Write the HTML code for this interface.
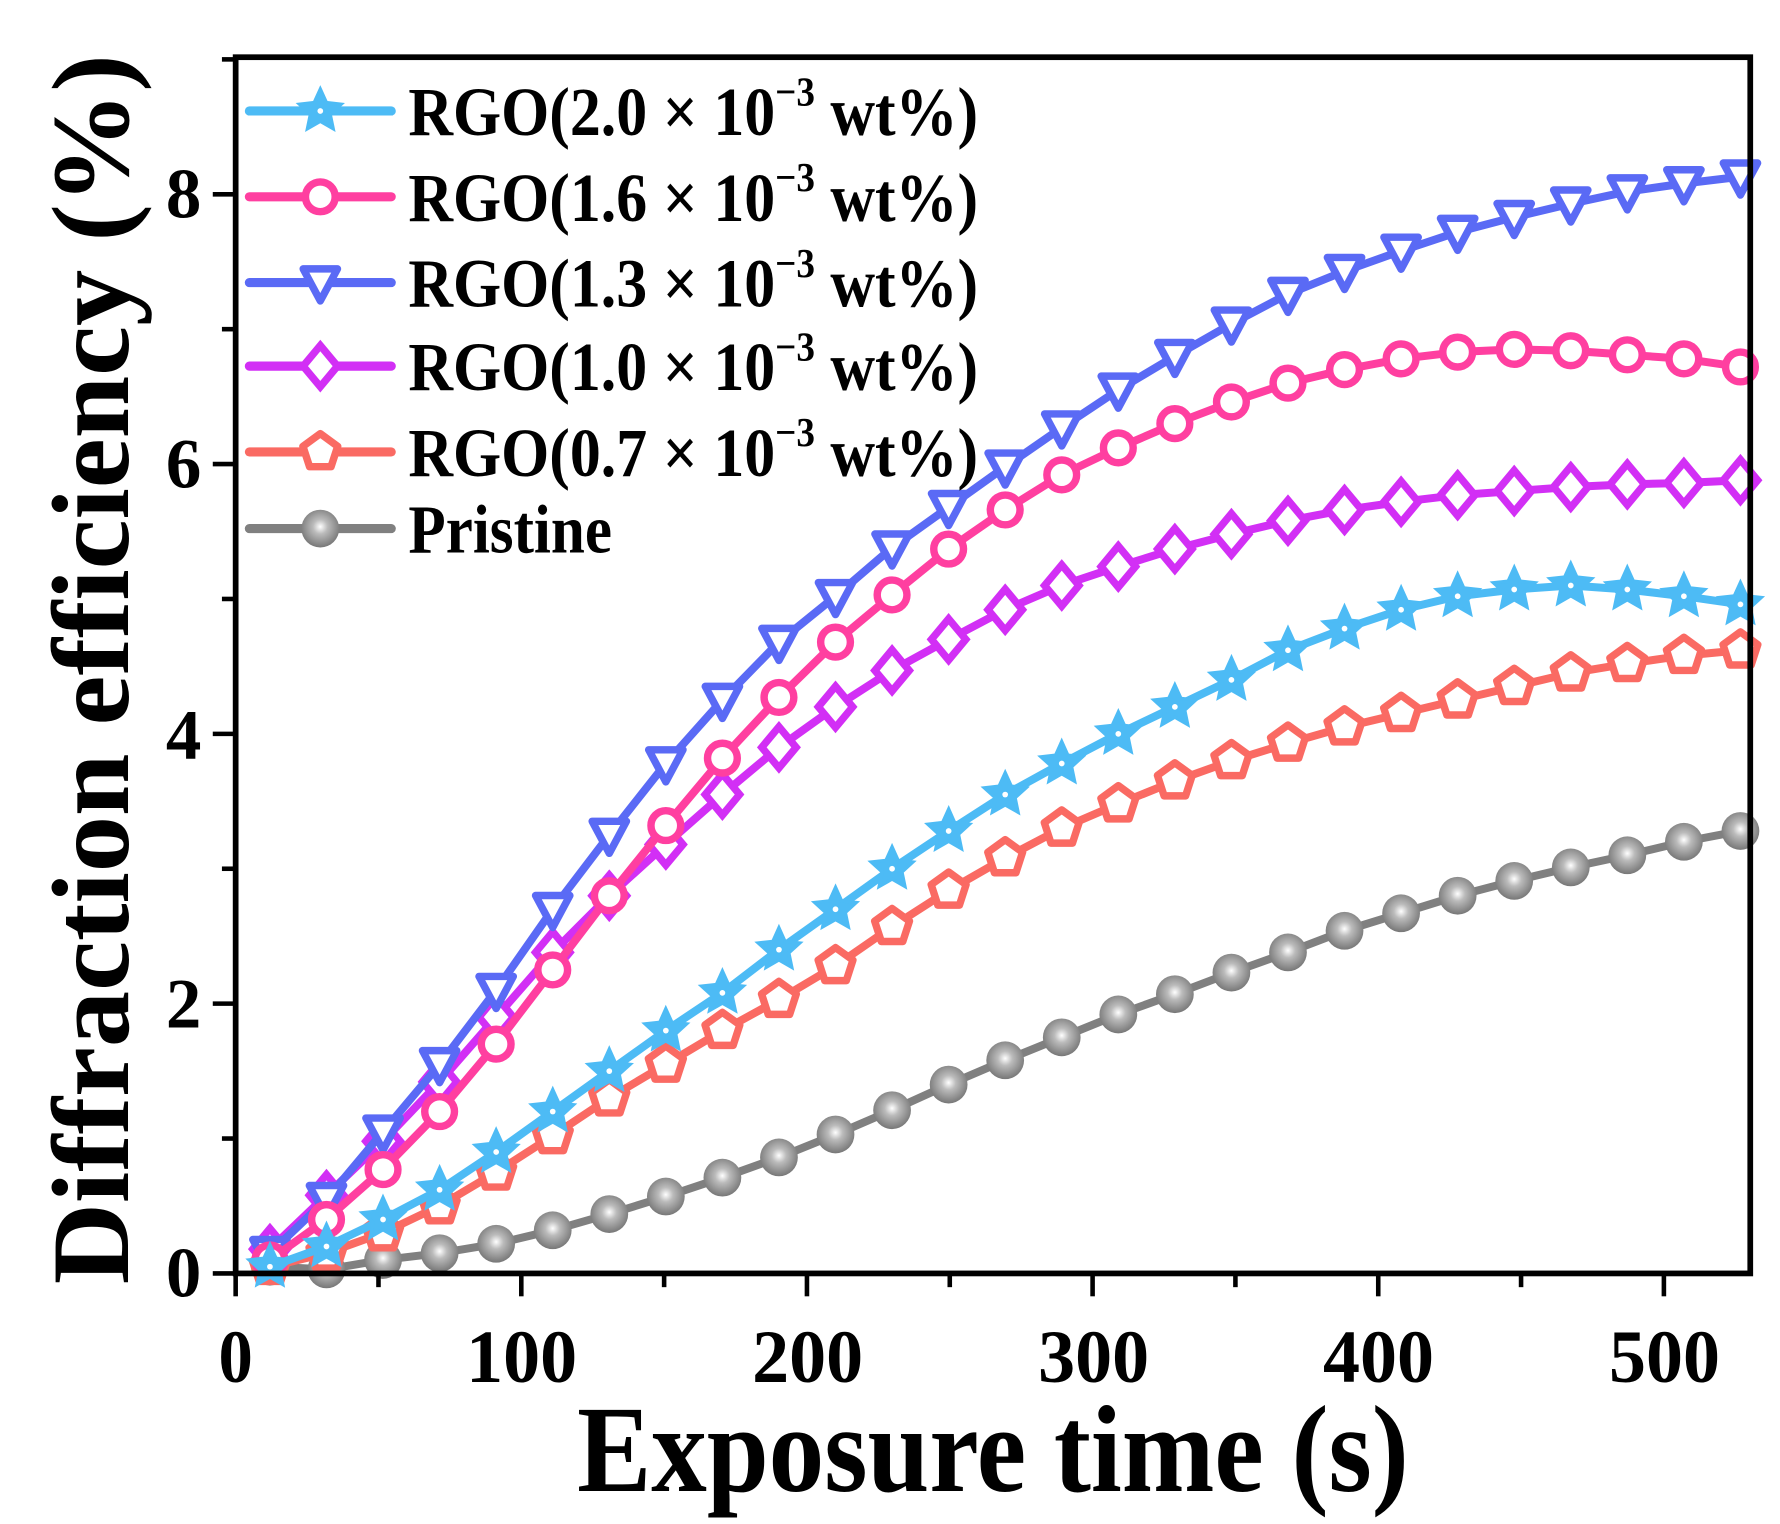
<!DOCTYPE html>
<html><head><meta charset="utf-8"><style>
html,body{margin:0;padding:0;background:#fff;}
svg{display:block;}
text{font-family:"Liberation Serif",serif;font-weight:bold;fill:#000;}
</style></head><body>
<svg id="s" width="1780" height="1524" viewBox="0 0 1556 1332" preserveAspectRatio="none" xmlns="http://www.w3.org/2000/svg">
<defs>
<radialGradient id="g" cx="0.5" cy="0.45" r="0.55"><stop offset="0" stop-color="#fff"/><stop offset="0.35" stop-color="#bbb"/><stop offset="1" stop-color="#777"/></radialGradient>
</defs>
<g id="plot"></g>
<rect x="206" y="50" width="1324" height="1063" fill="none" stroke="#000" stroke-width="5"/>
<g id="ticks" stroke="#000" stroke-width="4"></g>
<g font-size="66" text-anchor="middle">
<text x="206" y="1208" textLength="30" lengthAdjust="spacingAndGlyphs">0</text>
<text x="456" y="1208" textLength="97" lengthAdjust="spacingAndGlyphs">100</text>
<text x="706" y="1208" textLength="97" lengthAdjust="spacingAndGlyphs">200</text>
<text x="956" y="1208" textLength="97" lengthAdjust="spacingAndGlyphs">300</text>
<text x="1205" y="1208" textLength="97" lengthAdjust="spacingAndGlyphs">400</text>
<text x="1455" y="1208" textLength="97" lengthAdjust="spacingAndGlyphs">500</text>
</g>
<g font-size="62" text-anchor="end">
<text x="176" y="1133">0</text><text x="176" y="898">2</text><text x="176" y="663">4</text><text x="176" y="426">6</text><text x="176" y="190">8</text>
</g>
<text x="868" y="1303" font-size="108" text-anchor="middle" textLength="727" lengthAdjust="spacingAndGlyphs">Exposure time (s)</text>
<text transform="translate(112,585) rotate(-90)" font-size="96" text-anchor="middle" textLength="1075" lengthAdjust="spacingAndGlyphs">Diffraction efficiency (%)</text>
<g id="legend"></g>
</svg>
<script>
const X=t=>206+t*2.497, Y=v=>1113-v*117.9;
const ts=[];for(let k=0;k<27;k++)ts.push(12+k*19.8);
const S=[
 {c:"#4dbbf5",m:"star",v:[0.05,0.2,0.4,0.62,0.9,1.2,1.5,1.8,2.08,2.4,2.7,3.0,3.28,3.55,3.78,4.0,4.2,4.4,4.62,4.78,4.92,5.02,5.07,5.1,5.07,5.02,4.96],lab:"RGO(2.0"},
 {c:"#ff3fa0",m:"circ",v:[0.1,0.4,0.77,1.2,1.7,2.25,2.8,3.32,3.82,4.27,4.68,5.03,5.37,5.66,5.92,6.12,6.3,6.46,6.6,6.7,6.78,6.83,6.85,6.84,6.81,6.78,6.72],lab:"RGO(1.6"},
 {c:"#5a6af5",m:"tri",v:[0.15,0.55,1.05,1.55,2.1,2.7,3.25,3.78,4.25,4.68,5.02,5.38,5.68,5.98,6.27,6.55,6.8,7.04,7.26,7.43,7.58,7.72,7.83,7.93,8.02,8.08,8.13],lab:"RGO(1.3"},
 {c:"#d22ff5",m:"dia",v:[0.18,0.58,0.98,1.42,1.9,2.38,2.8,3.18,3.55,3.9,4.2,4.47,4.7,4.92,5.1,5.24,5.37,5.48,5.58,5.66,5.72,5.77,5.8,5.83,5.85,5.86,5.88],lab:"RGO(1.0"},
 {c:"#fa6a63",m:"pent",v:[0.05,0.15,0.3,0.5,0.75,1.02,1.3,1.55,1.8,2.03,2.28,2.57,2.84,3.08,3.3,3.48,3.65,3.8,3.93,4.05,4.15,4.25,4.35,4.45,4.52,4.58,4.62],lab:"RGO(0.7"},
 {c:"#808080",m:"ball",v:[0.05,0.03,0.1,0.15,0.22,0.32,0.44,0.57,0.71,0.86,1.03,1.21,1.4,1.58,1.75,1.92,2.07,2.23,2.38,2.54,2.67,2.8,2.91,3.01,3.1,3.2,3.28],lab:"Pristine"}
];
function poly(n,r,x,y,rot){let p=[];for(let i=0;i<n;i++){const a=rot+i*2*Math.PI/n;p.push((x+r*Math.cos(a)).toFixed(1)+","+(y+r*Math.sin(a)).toFixed(1));}return p.join(" ");}
function star(x,y,R,r){let p=[];for(let i=0;i<10;i++){const a=-Math.PI/2+i*Math.PI/5,rr=i%2?r:R;p.push((x+rr*Math.cos(a)).toFixed(1)+","+(y+rr*Math.sin(a)).toFixed(1));}return p.join(" ");}
function marker(s,x,y){const c=s.c;
 switch(s.m){
 case"star":return `<polygon points="${star(x,y,19,9)}" fill="${c}" stroke="${c}" stroke-width="3"/><circle cx="${x}" cy="${y}" r="2.5" fill="#fff"/>`;
 case"circ":return `<circle cx="${x}" cy="${y}" r="13" fill="#fff" stroke="${c}" stroke-width="6.5"/>`;
 case"tri":return `<polygon points="${x-15},${y-12} ${x+15},${y-12} ${x},${y+16}" fill="#fff" stroke="${c}" stroke-width="6.5" stroke-linejoin="round"/>`;
 case"dia":return `<polygon points="${x},${y-18} ${x+15},${y} ${x},${y+18} ${x-15},${y}" fill="#fff" stroke="${c}" stroke-width="6.5"/>`;
 case"pent":return `<polygon points="${poly(5,16,x,y,-Math.PI/2)}" fill="#fff" stroke="${c}" stroke-width="6.5" stroke-linejoin="round"/>`;
 case"ball":return `<circle cx="${x}" cy="${y}" r="16.5" fill="url(#g)"/>`;
 }}
let h="";
for(const s of S.slice().reverse()){
 const pts=s.v.map((v,i)=>[X(ts[i]),Y(v)]).filter(p=>p[0]<=1530);
 h+=`<polyline points="${pts.map(p=>p[0].toFixed(1)+","+p[1].toFixed(1)).join(" ")}" fill="none" stroke="${s.c}" stroke-width="7" stroke-linejoin="round"/>`;
 for(const p of pts)h+=marker(s,p[0],p[1]);
}
document.getElementById("plot").innerHTML=h;
let t="";
for(let v=0;v<=525;v+=50){const x=X(v);t+=`<line x1="${x}" y1="1113" x2="${x}" y2="${1113+(v%100?12:20)}"/>`;}
for(let v=0;v<=9;v+=1){const y=Y(v);t+=`<line x1="206" y1="${y}" x2="${206-(v%2?12:20)}" y2="${y}"/>`;}
document.getElementById("ticks").innerHTML=t;
const rows=[97,172,247,320,395,462];let L="";
S.forEach((s,i)=>{const y=rows[i];
 L+=`<line x1="218" y1="${y}" x2="342" y2="${y}" stroke="${s.c}" stroke-width="8" stroke-linecap="round"/>`+marker(s,280,y);
 if(s.m==="ball")L+=`<text x="357" y="${y+21}" font-size="60" textLength="178" lengthAdjust="spacingAndGlyphs">Pristine</text>`;
 else L+=`<text x="357" y="${y+21}" font-size="60" textLength="498" lengthAdjust="spacingAndGlyphs">${s.lab} × 10<tspan dy="-26" font-size="36">−3</tspan><tspan dy="26"> wt%)</tspan></text>`;
});
document.getElementById("legend").innerHTML=L;
</script>
</body></html>
